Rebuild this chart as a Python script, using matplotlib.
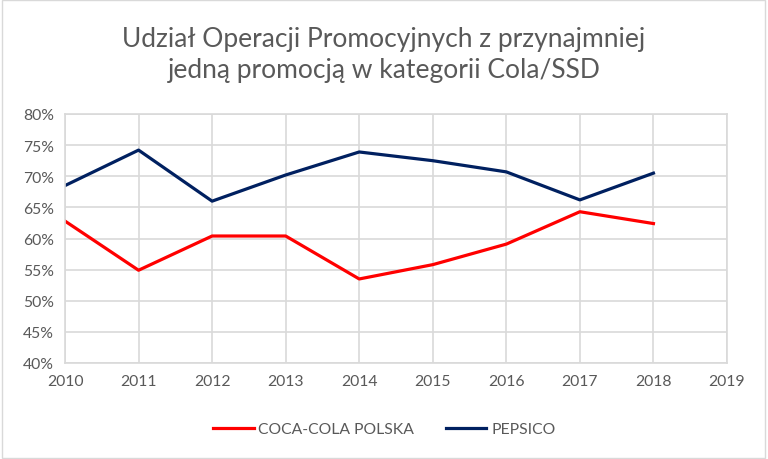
import matplotlib
matplotlib.use('Agg')
import matplotlib.pyplot as plt
import matplotlib.ticker as mticker
from matplotlib.patches import Rectangle

years = [2010, 2011, 2012, 2013, 2014, 2015, 2016, 2017, 2018]
coca_cola = [62.8, 54.9, 60.4, 60.4, 53.5, 55.8, 59.1, 64.3, 62.4]
pepsico = [68.5, 74.2, 66.0, 70.2, 73.9, 72.5, 70.7, 66.2, 70.5]
x_ticks = list(range(2010, 2020))
y_ticks = list(range(40, 81, 5))

title = 'Udział Operacji Promocyjnych z przynajmniej\njedną promocją w kategorii Cola/SSD'

plt.rcParams['font.family'] = ['Lato', 'DejaVu Sans']
grey = '#595959'

fig = plt.figure(figsize=(7.68, 4.60), dpi=100)
ax = fig.add_axes([65 / 768, 1 - 364 / 460, (727 - 65) / 768, (364 - 115) / 460])

ax.plot(years, coca_cola, color='#FF0000', linewidth=2.3, label='COCA-COLA POLSKA')
ax.plot(years, pepsico, color='#002060', linewidth=2.3, label='PEPSICO')

ax.set_xlim(2010, 2019)
ax.set_ylim(40, 80)
ax.set_xticks(x_ticks)
ax.set_yticks(y_ticks)
ax.yaxis.set_major_formatter(mticker.FuncFormatter(lambda v, p: f'{v:.0f}%'))
ax.tick_params(length=0, labelsize=11.3, colors=grey, pad=8)
ax.grid(color='#d9d9d9', linewidth=1.2)
ax.set_axisbelow(True)
for s in ax.spines.values():
    s.set_color('#d9d9d9')
    s.set_linewidth(1.2)

fig.text(0.5, 1 - 55 / 460, title, ha='center', va='center', fontsize=19,
         color=grey, linespacing=1.3)

fig.legend(loc='center', bbox_to_anchor=(0.5, 1 - 430 / 460), ncol=2, frameon=False,
           fontsize=11.3, labelcolor=grey, handlelength=2.6, columnspacing=2.0,
           handletextpad=0.3)

fig.patches.append(Rectangle((0.002, 0.003), 0.994, 0.994, transform=fig.transFigure,
                             fill=False, edgecolor='#d9d9d9', linewidth=1))

fig.savefig('out.png', dpi=100)
